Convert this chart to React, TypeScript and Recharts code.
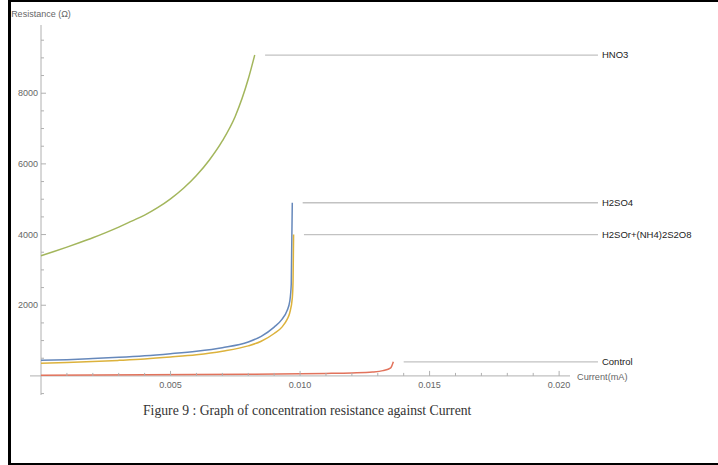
import { LineChart, Line, XAxis, YAxis, ReferenceLine, ReferenceDot } from "recharts";

// Resistance (ohm) against current (mA)
const hno3Current = [0, 0.0005, 0.001, 0.0015, 0.002, 0.0025, 0.003, 0.0035, 0.004, 0.0045, 0.005, 0.0055, 0.006, 0.0065, 0.007, 0.0075, 0.008, 0.00825];
const hno3Resistance = [3400, 3520, 3645, 3775, 3910, 4055, 4210, 4380, 4550, 4760, 5010, 5310, 5670, 6110, 6650, 7350, 8400, 9080];

const h2so4Current = [0, 0.001, 0.002, 0.003, 0.004, 0.005, 0.006, 0.007, 0.008, 0.0085, 0.009, 0.0093, 0.0095, 0.0096, 0.00966, 0.0097];
const h2so4Resistance = [440, 460, 490, 525, 570, 630, 700, 800, 960, 1120, 1380, 1600, 1850, 2100, 2600, 4900];

const mixCurrent = [0, 0.001, 0.002, 0.003, 0.004, 0.005, 0.006, 0.007, 0.008, 0.0085, 0.009, 0.0093, 0.0095, 0.0096, 0.0097, 0.00973, 0.00975];
const mixResistance = [360, 380, 405, 440, 480, 535, 600, 700, 850, 980, 1200, 1380, 1600, 1780, 2200, 2700, 4000];

const controlCurrent = [0, 0.002, 0.004, 0.006, 0.008, 0.01, 0.011, 0.012, 0.0128, 0.0132, 0.0135, 0.0136];
const controlResistance = [20, 25, 30, 38, 48, 60, 70, 85, 110, 150, 230, 400];

const xMajorTicks = [0.005, 0.01, 0.015, 0.02];
const xTickLabels = ["0.005", "0.010", "0.015", "0.020"];
const xMinorTicks = [0.001, 0.002, 0.003, 0.004, 0.006, 0.007, 0.008, 0.009, 0.011, 0.012, 0.013, 0.014, 0.016, 0.017, 0.018, 0.019];
const yMajorTicks = [2000, 4000, 6000, 8000];
const yTickLabels = ["2000", "4000", "6000", "8000"];
const yMinorTicks = [-500, 500, 1000, 1500, 2500, 3000, 3500, 4500, 5000, 5500, 6500, 7000, 7500, 8500, 9000, 9500];

const xDomain = [-0.000425, 0.02042];
const yDomain = [-540, 9930];
const calloutEnd = 0.0215;

const zip = (xs: number[], ys: number[]) => xs.map((x, i) => ({ x, y: ys[i] }));

const series = [
  { name: "HNO3", data: zip(hno3Current, hno3Resistance), color: "#a3b65c" },
  { name: "H2SO4", data: zip(h2so4Current, h2so4Resistance), color: "#6688bb" },
  { name: "H2SOr+(NH4)2S2O8", data: zip(mixCurrent, mixResistance), color: "#dcb23c" },
  { name: "Control", data: zip(controlCurrent, controlResistance), color: "#e2735c" },
];

const sans = "'Liberation Sans', Arial, sans-serif";
const axisColor = "#b0b0b0";
const tickText = "#666";

export default function App() {
  return (
    <div style={{ position: "absolute", left: 0, top: 0, width: 718, height: 465, background: "#fff" }}>
      <div
        style={{
          position: "absolute",
          left: 8,
          top: 0,
          width: 710,
          height: 465,
          boxSizing: "border-box",
          borderStyle: "solid",
          borderColor: "#000",
          borderWidth: "2px 0 2px 3px",
        }}
      />
      <div style={{ position: "absolute", left: 0, top: 0 }}>
        <LineChart width={718} height={465} margin={{ top: 25, right: 148, bottom: 70, left: 30 }}>
          <XAxis type="number" dataKey="x" domain={xDomain} allowDataOverflow hide />
          <YAxis type="number" dataKey="y" domain={yDomain} allowDataOverflow hide />
          <ReferenceLine y={0} stroke={axisColor} strokeWidth={1} />
          <ReferenceLine x={0} stroke={axisColor} strokeWidth={1} />
          {xMinorTicks.map((t) => (
            <ReferenceDot
              key={`xm-${t}`}
              x={t}
              y={0}
              shape={(p: any) => <line x1={p.cx} y1={p.cy} x2={p.cx} y2={p.cy - 3} stroke={axisColor} />}
            />
          ))}
          {xMajorTicks.map((t, i) => (
            <ReferenceDot
              key={`xM-${t}`}
              x={t}
              y={0}
              shape={(p: any) => (
                <g>
                  <line x1={p.cx} y1={p.cy} x2={p.cx} y2={p.cy - 5} stroke={axisColor} />
                  <text x={p.cx} y={p.cy + 12} textAnchor="middle" fontSize={9} fontFamily={sans} fill={tickText}>
                    {xTickLabels[i]}
                  </text>
                </g>
              )}
            />
          ))}
          {yMinorTicks.map((t) => (
            <ReferenceDot
              key={`ym-${t}`}
              x={0}
              y={t}
              shape={(p: any) => <line x1={p.cx} y1={p.cy} x2={p.cx + 3} y2={p.cy} stroke={axisColor} />}
            />
          ))}
          {yMajorTicks.map((t, i) => (
            <ReferenceDot
              key={`yM-${t}`}
              x={0}
              y={t}
              shape={(p: any) => (
                <g>
                  <line x1={p.cx} y1={p.cy} x2={p.cx + 5} y2={p.cy} stroke={axisColor} />
                  <text x={p.cx - 3} y={p.cy + 3} textAnchor="end" fontSize={9} fontFamily={sans} fill={tickText}>
                    {yTickLabels[i]}
                  </text>
                </g>
              )}
            />
          ))}
          <ReferenceDot
            x={xDomain[1]}
            y={0}
            ifOverflow="visible"
            shape={(p: any) => (
              <text x={p.cx + 7} y={p.cy + 4} fontSize={9.2} fontFamily={sans} fill={tickText}>
                Current(mA)
              </text>
            )}
          />
          <ReferenceDot
            x={0}
            y={yDomain[1]}
            ifOverflow="visible"
            shape={(p: any) => (
              <text x={p.cx} y={p.cy - 8} textAnchor="middle" fontSize={9} fontFamily={sans} fill={tickText}>
                Resistance (Ω)
              </text>
            )}
          />
          {series.map((s) => (
            <Line
              key={s.name}
              data={s.data}
              dataKey="y"
              type="monotone"
              stroke={s.color}
              strokeWidth={1.5}
              dot={false}
              isAnimationActive={false}
            />
          ))}
          {series.map((s) => {
            const last = s.data[s.data.length - 1];
            return (
              <ReferenceLine
                key={`c-${s.name}`}
                segment={[
                  { x: last.x + 0.0004, y: last.y },
                  { x: calloutEnd, y: last.y },
                ]}
                ifOverflow="visible"
                stroke="#c2c2c2"
                strokeWidth={1.3}
                label={{ value: s.name, position: "right", offset: 4, fill: "#222", fontSize: 9.5, fontFamily: sans }}
              />
            );
          })}
        </LineChart>
      </div>
      <div
        style={{
          position: "absolute",
          left: 143,
          top: 403,
          fontFamily: "'Liberation Serif', 'Times New Roman', serif",
          fontSize: 13.7,
          color: "#333",
          whiteSpace: "nowrap",
        }}
      >
        Figure 9 : Graph of concentration resistance against Current
      </div>
    </div>
  );
}
